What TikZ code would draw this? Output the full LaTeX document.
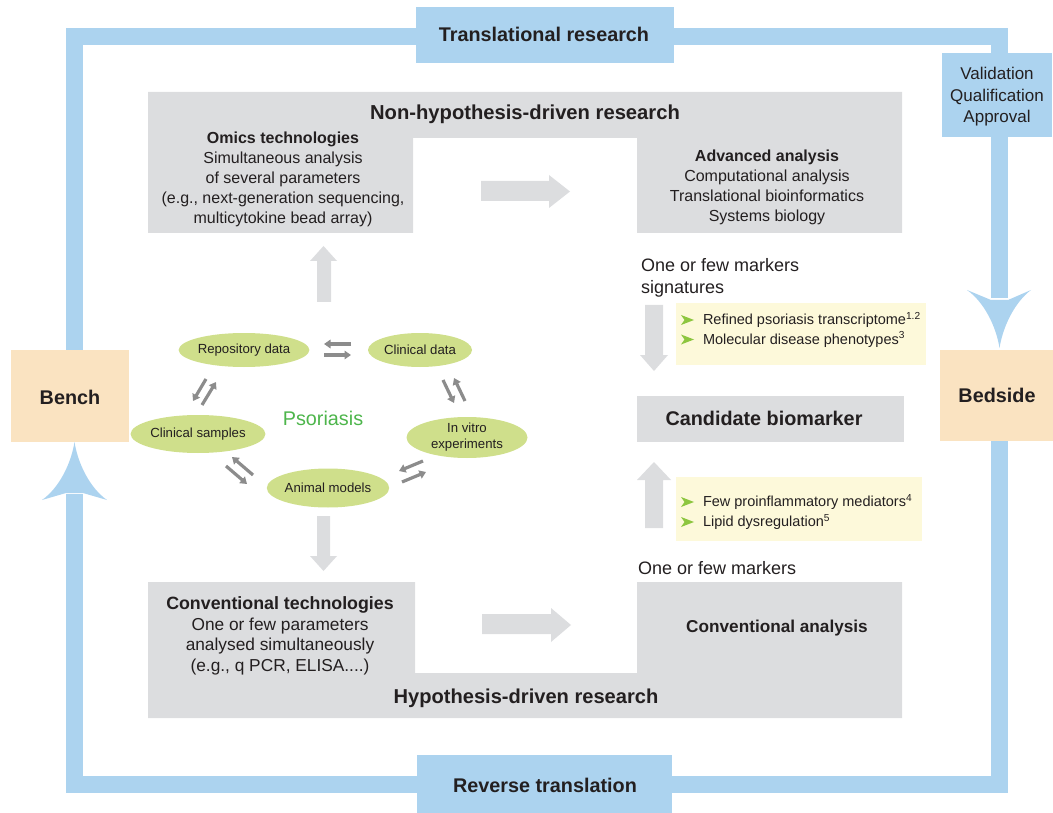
\documentclass[tikz,border=0pt]{standalone}
\usepackage{fontspec}
\setmainfont{Liberation Sans}
\usetikzlibrary{arrows.meta,shapes.geometric}
\definecolor{frameblue}{RGB}{172,211,239}
\definecolor{peach}{RGB}{250,227,193}
\definecolor{boxgray}{RGB}{220,221,223}
\definecolor{pale}{RGB}{253,249,218}
\definecolor{ellgreen}{RGB}{207,223,139}
\definecolor{psogreen}{RGB}{77,181,75}
\definecolor{arrgray}{RGB}{140,140,140}
\definecolor{bullgreen}{RGB}{141,198,63}
\definecolor{txt}{RGB}{35,31,32}
\begin{document}
\begin{tikzpicture}[x=1pt,y=-1pt,
  every node/.style={text=txt, inner sep=0pt, outer sep=0pt},
  frameline/.style={draw=frameblue, line width=17pt},
  bluebox/.style={fill=frameblue},
  peachbox/.style={fill=peach},
  headtxt/.style={font=\fontsize{19.8}{23}\selectfont\bfseries},
  subhead/.style={font=\fontsize{17.2}{20}\selectfont\bfseries},
  bodytxt/.style={font=\fontsize{16}{20}\selectfont, align=center},
  markertxt/.style={font=\fontsize{18}{22}\selectfont, align=left},
  listtxt/.style={font=\fontsize{14.5}{19.5}\selectfont, anchor=west},
  ell/.style={ellipse, fill=ellgreen, font=\fontsize{13.2}{16}\selectfont, align=center},
  grayfill/.style={fill=boxgray},
  smallarr/.style={draw=arrgray, line width=3.2pt, -{Triangle[width=8.5pt,length=6.5pt]}},
  bullet/.style={fill=bullgreen}
]
\useasboundingbox (0,0) rectangle (1053,813);

% ---------- blue frame ----------
\draw[frameline] (74.5,352) -- (74.5,36.5) -- (999.5,36.5) -- (999.5,298);
\draw[frameline] (999.5,440) -- (999.5,784.5) -- (74.5,784.5) -- (74.5,494);
% arrow head into Bedside
\fill[frameblue] (999.5,348) .. controls (996,326) and (984,302) .. (967,290)
  -- (991,300) -- (1008,300) -- (1031,290) .. controls (1015,302) and (1003,326) .. (999.5,348) -- cycle;
% arrow head into Bench
\fill[frameblue] (74.5,442) .. controls (78,464) and (90,488) .. (107,500)
  -- (83,493) -- (66,493) -- (42,500) .. controls (59,488) and (71,464) .. (74.5,442) -- cycle;

% ---------- blue / peach boxes ----------
\node[bluebox, minimum width=258pt, minimum height=56pt] (trans) at (545,35) {};
\node[headtxt] (translbl) at (544,34) {Translational research};
\node[bluebox, minimum width=255pt, minimum height=58pt] (rev) at (544.5,784) {};
\node[headtxt] (revlbl) at (545,785) {Reverse translation};
\node[bluebox, minimum width=110pt, minimum height=84pt] (valid) at (997,95) {};
\node[font=\fontsize{17}{21.5}\selectfont, align=center] (validlbl) at (997,97) {Validation\\Qualification\\Approval};
\node[peachbox, minimum width=118pt, minimum height=92pt] (bench) at (70,396) {};
\node[headtxt] (benchlbl) at (70,397) {Bench};
\node[peachbox, minimum width=113pt, minimum height=91pt] (bedside) at (996.5,395.5) {};
\node[headtxt] (bedsidelbl) at (997,395) {Bedside};

% ---------- gray research shapes ----------
\fill[grayfill] (148,92) -- (902,92) -- (902,233) -- (637,233) -- (637,138) -- (413,138) -- (413,233) -- (148,233) -- cycle;
\fill[grayfill] (148,582) -- (415,582) -- (415,673) -- (637,673) -- (637,582) -- (902,582) -- (902,718) -- (148,718) -- cycle;
\node[headtxt, font=\fontsize{20.2}{23}\selectfont\bfseries] (nonhyp) at (525,114.5) {Non-hypothesis-driven research};
\node[headtxt, font=\fontsize{20.1}{23}\selectfont\bfseries] (hyp) at (526,698.5) {Hypothesis-driven research};
\node[bodytxt] (omics) at (283,179.5) {\textbf{Omics technologies}\\Simultaneous analysis\\of several parameters\\(e.g., next-generation sequencing,\\multicytokine bead array)};
\node[bodytxt] (advanced) at (767,187.5) {\textbf{Advanced analysis}\\Computational analysis\\Translational bioinformatics\\Systems biology};
\node[bodytxt, font=\fontsize{17.3}{20.5}\selectfont] (conv) at (280,636) {{\fontsize{17.8}{20.5}\selectfont\bfseries Conventional technologies}\\One or few parameters\\analysed simultaneously\\(e.g., q PCR, ELISA....)};
\node[subhead] (convan) at (777,628) {Conventional analysis};

% candidate biomarker
\node[grayfill, minimum width=267pt, minimum height=46pt] (cand) at (770.5,419) {};
\node[headtxt] (candlbl) at (764,418.5) {Candidate biomarker};

% marker texts
\node[markertxt, anchor=west] (mk1) at (641,277.5) {One or few markers\\signatures};
\node[markertxt, anchor=west] (mk2) at (638,568) {One or few markers};

% yellow boxes
\node[fill=pale, minimum width=250pt, minimum height=62pt] (y1) at (801,334) {};
\node[fill=pale, minimum width=246pt, minimum height=64pt] (y2) at (799,509) {};
\node[listtxt] (l1) at (703,320) {Refined psoriasis transcriptome\textsuperscript{1.2}};
\node[listtxt] (l2) at (703,339.5) {Molecular disease phenotypes\textsuperscript{3}};
\node[listtxt] (l3) at (703,502) {Few proinflammatory mediators\textsuperscript{4}};
\node[listtxt] (l4) at (703,522) {Lipid dysregulation\textsuperscript{5}};
\foreach \yy in {320,339.5,502,522}{
  \fill[bullet] (681,\yy-5) -- (694,\yy) -- (681,\yy+5) -- (684.5,\yy) -- cycle;
}

% ---------- big gray block arrows ----------
\fill[grayfill] (317,302) -- (317,261) -- (310,261) -- (323.5,246) -- (337,261) -- (331,261) -- (331,302) -- cycle;
\fill[grayfill] (317,516) -- (317,556) -- (310,556) -- (323.5,571) -- (337,556) -- (330,556) -- (330,516) -- cycle;
\fill[grayfill] (481,181) -- (549,181) -- (549,175) -- (570,191.5) -- (549,208) -- (549,201) -- (481,201) -- cycle;
\fill[grayfill] (482,614) -- (551,614) -- (551,608) -- (571,625) -- (551,642) -- (551,634) -- (482,634) -- cycle;
\fill[grayfill] (645,305) -- (663,305) -- (663,355) -- (668,355) -- (654,371) -- (640,355) -- (645,355) -- cycle;
\fill[grayfill] (645,528) -- (663,528) -- (663,480) -- (671,480) -- (654,462) -- (637,480) -- (645,480) -- cycle;

% ---------- ellipses ----------
\node[ell, minimum width=119pt, minimum height=34pt] (repo) at (244,350) {Repository data};
\node[ell, minimum width=104pt, minimum height=34pt] (clindata) at (420,350) {Clinical data};
\node[ell, minimum width=118pt, minimum height=38pt] (clinsamp) at (198,434) {Clinical samples};
\node[ell, minimum width=121pt, minimum height=41pt] (invitro) at (467,437.5) {In vitro\\experiments};
\node[ell, minimum width=121pt, minimum height=39pt] (animal) at (328,488) {Animal models};
\node[font=\fontsize{19.8}{23}\selectfont, text=psogreen] (psor) at (323,418.5) {Psoriasis};

% ---------- small exchange arrows ----------
\coordinate (a1s) at (351,344); \coordinate (a1e) at (324,344);
\coordinate (a2s) at (324,355); \coordinate (a2e) at (351,355);
\draw[smallarr] (a1s) -- (a1e);
\draw[smallarr] (a2s) -- (a2e);
\coordinate (b1s) at (206,379); \coordinate (b1e) at (193,401);
\coordinate (b2s) at (202,405); \coordinate (b2e) at (216,382);
\draw[smallarr] (b1s) -- (b1e);
\draw[smallarr] (b2s) -- (b2e);
\coordinate (c1s) at (443,380); \coordinate (c1e) at (454,403);
\coordinate (c2s) at (465,401); \coordinate (c2e) at (454,378);
\draw[smallarr] (c1s) -- (c1e);
\draw[smallarr] (c2s) -- (c2e);
\coordinate (d1s) at (253,475); \coordinate (d1e) at (232,457);
\coordinate (d2s) at (226,466); \coordinate (d2e) at (247,484);
\draw[smallarr] (d1s) -- (d1e);
\draw[smallarr] (d2s) -- (d2e);
\coordinate (e1s) at (423,461); \coordinate (e1e) at (399,471);
\coordinate (e2s) at (402,482); \coordinate (e2e) at (426,472);
\draw[smallarr] (e1s) -- (e1e);
\draw[smallarr] (e2s) -- (e2e);
\end{tikzpicture}
\end{document}
